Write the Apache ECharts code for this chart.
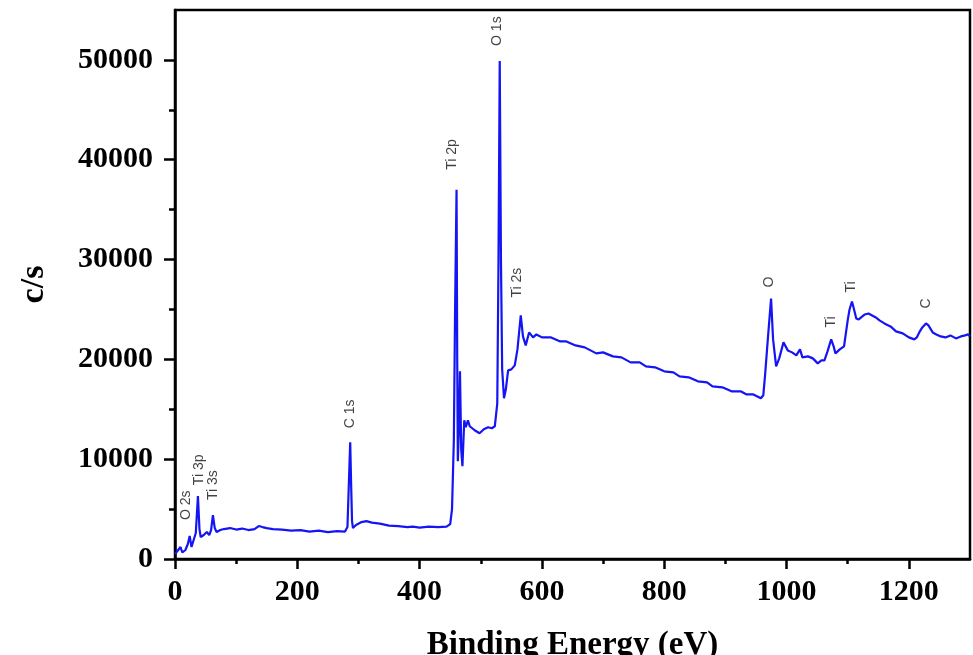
<!DOCTYPE html>
<html>
<head>
<meta charset="utf-8">
<title>XPS survey</title>
<script src="https://cdn.jsdelivr.net/npm/echarts@6/dist/echarts.min.js"></script>
<style>
  html, body { margin: 0; padding: 0; background: #fff; }
  #chart { width: 973px; height: 655px; }
</style>
</head>
<body>
<div id="chart"></div>
<script type="text/javascript">
// binding energy (eV) and intensity (c/s)
var energy = [0, 4, 9, 12, 17, 21, 24, 27, 30, 34, 37.5, 40, 42, 47, 52, 56, 59, 62, 65, 68,
  74, 80, 90, 100, 110, 120, 130, 137, 140, 143, 146, 150, 160, 175, 190, 205, 220, 235, 250, 265,
  278, 282, 284, 286.5, 288, 289.5, 291, 296, 305, 313, 322, 335, 350, 365, 380, 389, 400, 415, 430, 444,
  450, 453, 456, 458, 460.4, 461.5, 462.5, 464, 466, 468, 470, 473, 475.6, 479, 482, 485, 490, 498, 505, 512,
  518, 523, 527, 529, 531, 533, 535, 538, 541, 544.7, 550, 555.6, 560, 565.4, 569, 573.5, 579, 585.5, 591, 600,
  615, 630, 640, 655, 670, 689, 700, 716, 730, 745, 760, 770, 785, 800, 815, 825, 840, 855, 870, 879,
  895, 910, 925, 934, 945, 958, 962, 965, 970, 974.7, 978, 983, 988, 995, 1002, 1009, 1016, 1022, 1026, 1035,
  1043, 1051, 1057, 1062, 1067, 1073, 1077, 1080, 1087, 1094, 1100, 1103, 1107, 1110, 1114, 1118, 1122, 1128, 1134, 1140,
  1146, 1152, 1160, 1170, 1179, 1190, 1200, 1209, 1213, 1217, 1222, 1228, 1232, 1239, 1245, 1252, 1260, 1268, 1277, 1285,
  1292, 1297, 1300];
var counts = [500, 800, 1200, 650, 900, 1500, 2300, 1200, 1300, 2600, 6300, 3000, 2200, 2400, 2700, 2400, 2900, 4400, 3100, 2700,
  2900, 3000, 3100, 2950, 3050, 2900, 3000, 3300, 3400, 3200, 3400, 3100, 3000, 2950, 2850, 2900, 2750, 2850, 2700, 2800,
  2750, 3200, 7000, 11700, 7500, 3800, 3100, 3400, 3700, 3800, 3650, 3550, 3350, 3300, 3200, 3250, 3150, 3250, 3200, 3250,
  3500, 5000, 12000, 25000, 37000, 20000, 9800, 12500, 18800, 11000, 9300, 13900, 13200, 13900, 13300, 13200, 12900, 12600, 13000, 13200,
  13100, 13300, 15600, 30000, 49900, 30000, 19000, 16100, 17000, 18900, 19000, 19400, 21000, 24400, 22300, 21400, 22700, 22200, 22500, 22200,
  22200, 21800, 21800, 21400, 21200, 20600, 20700, 20300, 20200, 19700, 19700, 19300, 19200, 18800, 18700, 18300, 18200, 17800, 17700, 17300,
  17200, 16800, 16800, 16500, 16500, 16100, 16400, 18500, 22500, 26100, 22000, 19300, 20100, 21700, 20900, 20700, 20400, 21000, 20200, 20300,
  20100, 19600, 19900, 19900, 20800, 22000, 21300, 20600, 21000, 21300, 23900, 25000, 25800, 25100, 24100, 24000, 24200, 24500, 24600, 24400,
  24200, 23900, 23600, 23300, 22800, 22600, 22200, 22000, 22200, 22700, 23200, 23600, 23400, 22700, 22500, 22300, 22200, 22400, 22100, 22300,
  22400, 22500, 22300];

// peak annotations: text, energy, and the level where the text starts
var peakNames = ["O 2s", "Ti 3p", "Ti 3s", "C 1s", "Ti 2p", "O 1s", "Ti 2s", "O", "Ti", "Ti", "C"];
var peakX = [18, 40, 62, 287, 453, 526, 560, 972, 1073, 1106, 1228];
var peakY = [3900, 7400, 5900, 13100, 39000, 51400, 26200, 27200, 23200, 26700, 25100];

var xMajor = [0, 200, 400, 600, 800, 1000, 1200];
var xMinor = [100, 300, 500, 700, 900, 1100];
var yMajor = [0, 10000, 20000, 30000, 40000, 50000];
var yMinor = [5000, 15000, 25000, 35000, 45000];

var spectrum = energy.map(function (e, i) { return [e, counts[i]]; });
var peaks = peakNames.map(function (n, i) { return { name: n, value: [peakX[i], peakY[i]] }; });

var chart = echarts.init(document.getElementById("chart"));
var axisFont = { fontFamily: "Liberation Serif", fontWeight: "bold", fontSize: 30, color: "#000" };
var plain = function (v) { return String(v); };

chart.setOption({
  animation: false,
  grid: {
    left: 175,
    right: 3,
    top: 10,
    bottom: 96,
    outerBoundsMode: "none",
    containLabel: false,
    show: true,
    borderColor: "#000",
    borderWidth: 2.5
  },
  xAxis: [
    {
      type: "value",
      min: 0,
      max: 1300,
      position: "bottom",
      name: "Binding Energy (eV)",
      nameLocation: "middle",
      nameGap: 70,
      nameTextStyle: { fontFamily: "Liberation Serif", fontWeight: "bold", fontSize: 33, color: "#000" },
      axisLine: { lineStyle: { color: "#000", width: 2.5 } },
      axisTick: { inside: false, length: 10, lineStyle: { color: "#000", width: 2.5 }, customValues: xMajor },
      axisLabel: Object.assign({ margin: 18, customValues: xMajor, formatter: plain }, axisFont),
      splitLine: { show: false }
    },
    {
      type: "value",
      min: 0,
      max: 1300,
      position: "bottom",
      axisLine: { show: false },
      axisTick: { length: 5, lineStyle: { color: "#000", width: 2.5 }, customValues: xMinor },
      axisLabel: { show: false },
      splitLine: { show: false }
    }
  ],
  yAxis: [
    {
      type: "value",
      min: 0,
      max: 55000,
      position: "left",
      name: "c/s",
      nameLocation: "middle",
      nameGap: 124,
      nameTextStyle: { fontFamily: "Liberation Serif", fontWeight: "bold", fontSize: 34, color: "#000" },
      axisLine: { lineStyle: { color: "#000", width: 2.5 } },
      axisTick: { length: 11, lineStyle: { color: "#000", width: 2.5 }, customValues: yMajor },
      axisLabel: Object.assign({ margin: 22, customValues: yMajor, formatter: plain }, axisFont),
      splitLine: { show: false }
    },
    {
      type: "value",
      min: 0,
      max: 55000,
      position: "left",
      axisLine: { show: false },
      axisTick: { length: 6, lineStyle: { color: "#000", width: 2.5 }, customValues: yMinor },
      axisLabel: { show: false },
      splitLine: { show: false }
    }
  ],
  series: [
    {
      type: "line",
      data: spectrum,
      showSymbol: false,
      symbol: "none",
      lineStyle: { color: "#1414f5", width: 2.2 },
      z: 3
    },
    {
      type: "scatter",
      data: peaks,
      symbolSize: 0,
      label: {
        show: true,
        formatter: "{b}",
        position: [0, 0],
        rotate: 90,
        align: "left",
        verticalAlign: "middle",
        fontFamily: "Liberation Sans",
        fontSize: 14,
        color: "#111"
      },
      z: 4
    }
  ]
});
</script>
</body>
</html>
